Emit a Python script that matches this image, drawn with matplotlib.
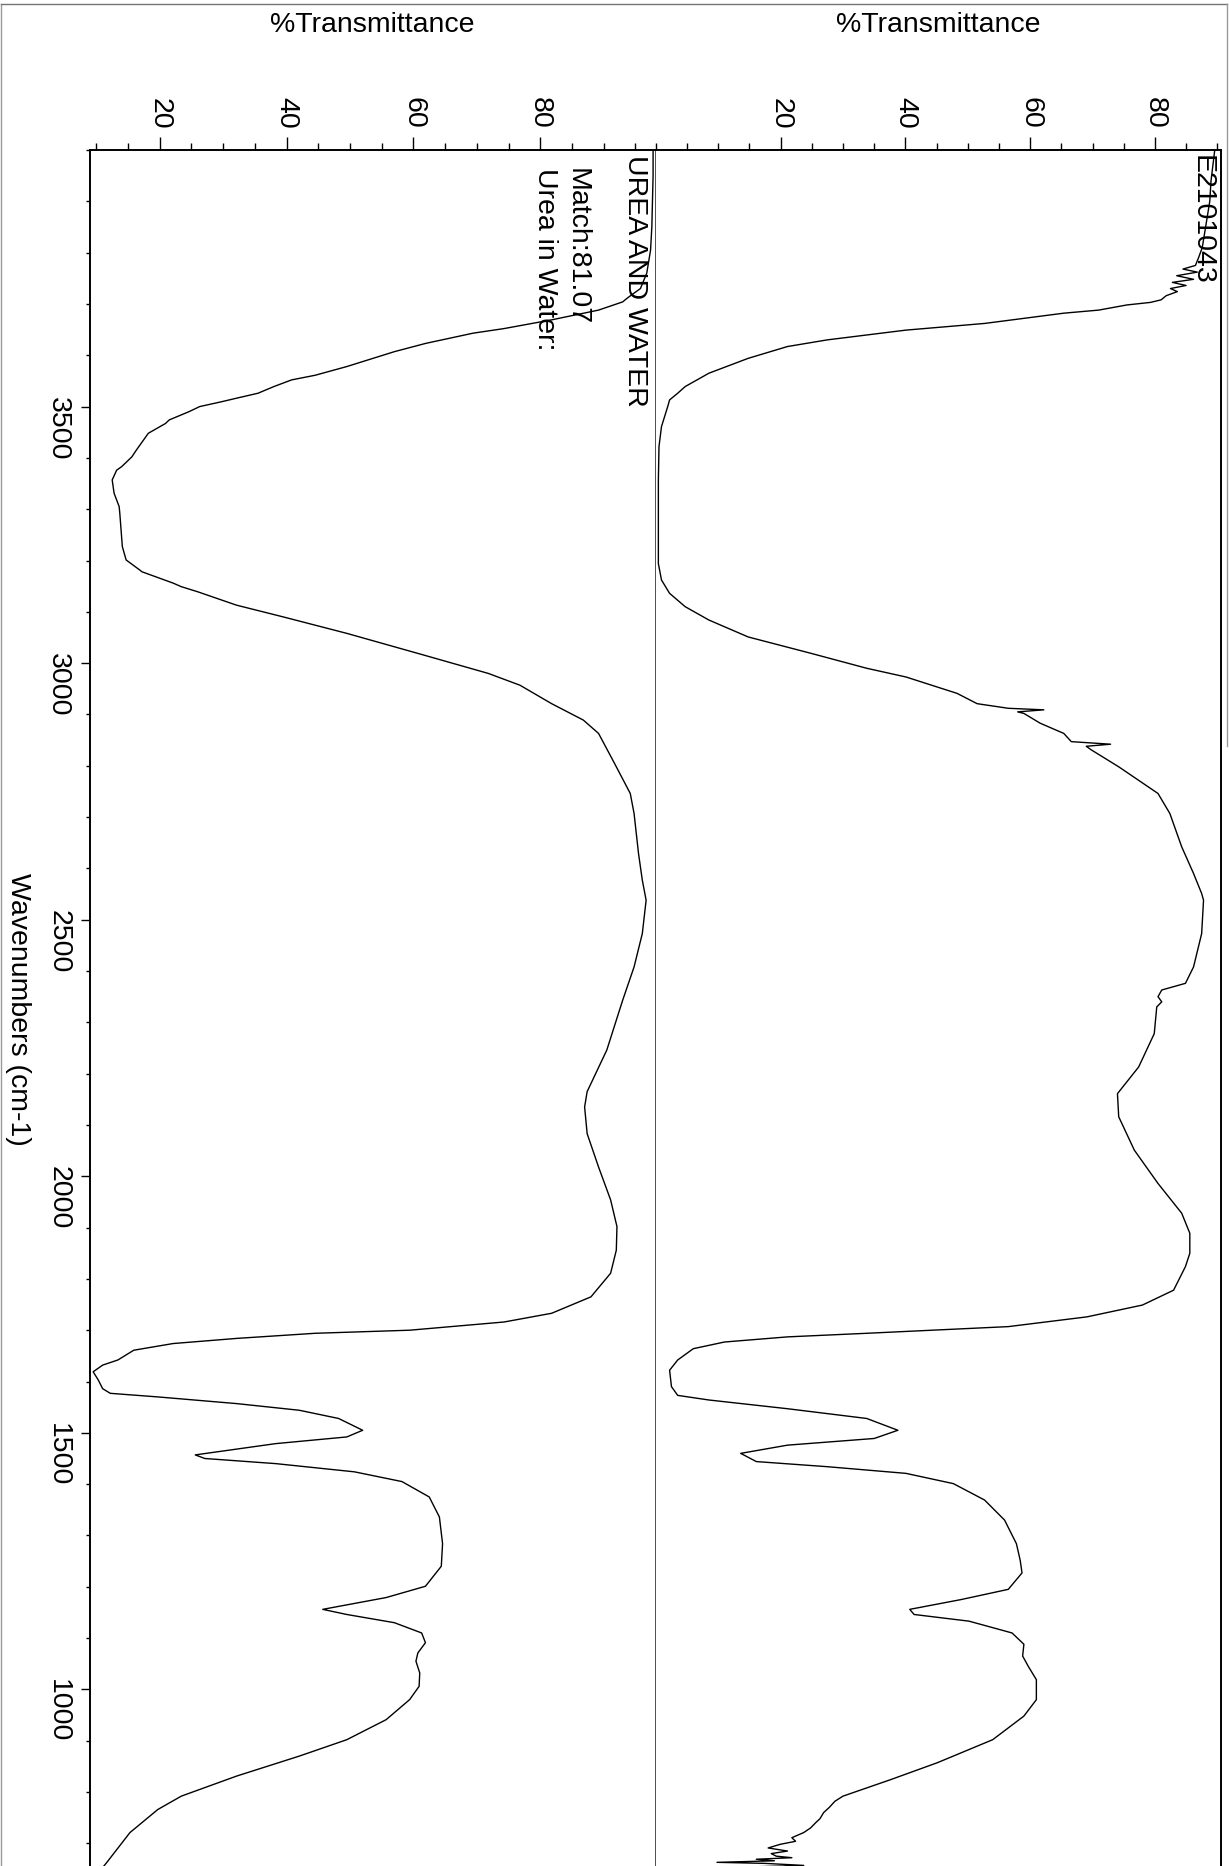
import matplotlib
matplotlib.use("Agg")
import matplotlib.pyplot as plt
from matplotlib.ticker import FixedLocator, MultipleLocator
from matplotlib.lines import Line2D

plt.rcParams['font.family'] = ['Liberation Sans', 'DejaVu Sans']

# reference spectrum (library match): wavenumber, %T
ref_wn = [4000, 3950, 3900, 3850, 3805, 3760, 3730, 3713, 3704, 3688, 3669, 3652,
          3643, 3623, 3607, 3578, 3561, 3552, 3539, 3526, 3516, 3509, 3500, 3490,
          3474, 3467, 3448, 3415, 3402, 3383, 3376, 3357, 3331, 3305, 3292, 3227,
          3201, 3181, 3178, 3156, 3149, 3139, 3113, 3090, 3058, 3019, 2980, 2957,
          2921, 2889, 2863, 2805, 2746, 2707, 2629, 2577, 2538, 2473, 2408, 2343,
          2246, 2165, 2135, 2083, 2018, 1954, 1902, 1856, 1811, 1765, 1733, 1716,
          1700, 1694, 1684, 1674, 1661, 1642, 1632, 1619, 1603, 1586, 1577, 1570,
          1557, 1544, 1528, 1505, 1492, 1479, 1457, 1450, 1440, 1424, 1405, 1375,
          1336, 1284, 1240, 1201, 1179, 1156, 1146, 1130, 1110, 1091, 1071, 1055,
          1032, 1006, 980, 941, 902, 870, 831, 792, 766, 721, 662, 650]
ref_t = [97.8, 97.8, 97.7, 97.6, 97.4, 96.8, 95.8, 93.9, 93.0, 89.2, 81.8, 74.3,
         69.4, 61.9, 57.0, 49.5, 44.5, 40.8, 38.0, 35.5, 32.0, 29.6, 26.3, 24.6,
         21.5, 20.9, 18.2, 16.3, 15.6, 14.0, 13.2, 12.5, 12.8, 13.6, 13.7, 14.1,
         14.7, 16.9, 17.2, 22.1, 23.4, 26.0, 32.1, 39.5, 49.5, 60.7, 71.8, 76.8,
         81.8, 86.8, 89.2, 91.7, 94.2, 94.8, 95.5, 96.1, 96.7, 96.1, 94.8, 93.0,
         90.5, 87.4, 87.0, 87.4, 89.2, 91.1, 92.1, 92.0, 91.1, 88.0, 81.8, 74.3,
         59.4, 44.5, 32.1, 22.1, 15.9, 13.4, 11.0, 9.5, 10.3, 11.0, 12.2, 19.7,
         32.1, 42.0, 48.2, 52.0, 49.5, 38.3, 25.6, 27.1, 38.3, 50.7, 58.2, 62.5,
         64.1, 64.6, 64.4, 61.9, 55.7, 45.7, 49.5, 57.0, 61.3, 61.9, 60.7, 60.4,
         61.0, 60.9, 59.4, 55.7, 49.5, 42.0, 32.1, 23.4, 19.7, 15.3, 11.6, 10.8]

# sample spectrum E2101043
smp_wn = [4000, 3970, 3940, 3900, 3870, 3840, 3810, 3790, 3775, 3768, 3762, 3755,
          3748, 3742, 3736, 3730, 3724, 3716, 3708, 3703, 3698, 3688, 3682, 3662,
          3649, 3630, 3617, 3594, 3565, 3552, 3539, 3526, 3513, 3500, 3461, 3422,
          3357, 3194, 3162, 3136, 3110, 3084, 3051, 3019, 2990, 2973, 2941, 2921,
          2912, 2909, 2905, 2902, 2883, 2863, 2847, 2842, 2838, 2831, 2798, 2746,
          2707, 2642, 2590, 2551, 2538, 2473, 2408, 2376, 2363, 2350, 2340, 2330,
          2278, 2213, 2161, 2116, 2051, 1986, 1928, 1889, 1850, 1824, 1778, 1749,
          1726, 1707, 1694, 1687, 1677, 1664, 1642, 1622, 1590, 1573, 1564, 1547,
          1528, 1505, 1489, 1476, 1460, 1444, 1434, 1421, 1401, 1369, 1330, 1284,
          1252, 1227, 1195, 1175, 1156, 1146, 1133, 1110, 1088, 1065, 1045, 1019,
          980, 948, 902, 857, 824, 792, 782, 770, 760, 748, 740, 730, 721, 711,
          704, 698, 691, 685, 680, 675, 672, 669, 666, 663, 661, 657, 654, 650]
smp_t = [89.6, 89.3, 89.0, 88.8, 88.4, 88.0, 87.6, 87.0, 86.5, 84.5, 86.8, 83.5,
         86.2, 82.8, 85.0, 82.5, 83.6, 81.8, 81.0, 79.3, 75.5, 71.0, 65.4, 52.7,
         40.1, 27.5, 21.1, 14.8, 8.5, 6.6, 4.7, 3.5, 2.2, 1.9, 0.9, 0.5,
         0.4, 0.4, 0.9, 2.2, 4.7, 8.5, 14.8, 24.9, 33.8, 40.1, 48.3, 51.5,
         56.5, 62.2, 58.0, 59.0, 61.6, 65.4, 66.6, 72.9, 69.0, 69.8, 74.2, 80.5,
         82.4, 84.3, 86.2, 87.5, 87.8, 87.5, 86.2, 84.9, 81.1, 80.5, 81.1, 80.3,
         79.9, 77.4, 74.0, 74.2, 76.7, 80.5, 84.3, 85.6, 85.6, 84.9, 83.0, 78.0,
         69.1, 56.5, 33.8, 21.1, 11.0, 6.0, 3.5, 2.2, 2.5, 3.5, 8.5, 21.1,
         33.8, 38.8, 35.0, 21.1, 13.6, 16.1, 27.5, 40.1, 47.7, 52.7, 55.9, 57.8,
         58.4, 58.7, 56.5, 48.9, 40.7, 41.4, 50.2, 57.1, 59.0, 58.8, 59.7, 61.0,
         61.0, 59.0, 54.0, 45.1, 37.6, 30.0, 28.7, 27.8, 26.9, 26.3, 25.6, 24.8, 23.7, 21.8,
         22.4, 19.9, 18.0, 21.1, 18.5, 19.3, 21.8, 16.1, 19.0, 9.8, 17.4, 23.7, 15.0, 18.0]

t_ticks = [20, 40, 60, 80]
wn_ticks = [3500, 3000, 2500, 2000, 1500, 1000]

W, H = 1229, 1866
FS = 20.5
fig = plt.figure(figsize=(W / 100, H / 100), dpi=100)


def box(x0, x1, y0, y1):
    # pixel box (top-left origin) -> figure fraction
    return [x0 / W, 1 - y1 / H, (x1 - x0) / W, (y1 - y0) / H]


def ftext(x, y, s, **kw):
    return fig.text(x / W, 1 - y / H, s, fontsize=FS, **kw)


ax_ref = fig.add_axes(box(90, 655, 150, 1869))
ax_smp = fig.add_axes(box(655, 1221, 150, 1869))

ax_ref.plot(ref_t, ref_wn, color='black', lw=1.0)
ax_smp.plot(smp_t, smp_wn, color='black', lw=1.0)

ax_ref.set_xlim(9.0, 98.1)
ax_smp.set_xlim(-0.14, 90.6)

for ax in (ax_ref, ax_smp):
    ax.set_ylim(650, 4000)
    ax.xaxis.set_ticks_position('top')
    ax.xaxis.set_major_locator(FixedLocator(t_ticks))
    ax.xaxis.set_minor_locator(MultipleLocator(5))
    ax.tick_params(axis='x', which='major', direction='out', length=9.5, width=1,
                   labelsize=FS, labelrotation=-90, pad=5.5)
    ax.tick_params(axis='x', which='minor', direction='out', length=5, width=1)
    ax.spines['bottom'].set_visible(False)
    for s in ('top', 'left', 'right'):
        ax.spines[s].set_linewidth(1.4)

ax_ref.spines['right'].set_linewidth(0.7)
ax_smp.spines['left'].set_linewidth(0.7)
ax_ref.spines['right'].set_color('0.3')
ax_smp.spines['left'].set_color('0.3')

ax_ref.yaxis.set_major_locator(FixedLocator(wn_ticks))
ax_ref.yaxis.set_minor_locator(MultipleLocator(100))
ax_ref.tick_params(axis='y', which='major', direction='out', length=6.5, width=1,
                   labelsize=FS, labelrotation=-90, pad=7)
ax_ref.tick_params(axis='y', which='minor', direction='out', length=3, width=1)
ax_smp.tick_params(axis='y', which='both', left=False, labelleft=False)

# axis titles
ftext(372.5, 25, '%Transmittance', ha='center', va='center')
ftext(938, 25, '%Transmittance', ha='center', va='center')
ftext(18, 1009, 'Wavenumbers (cm-1)', rotation=-90, ha='center', va='center')

# spectrum captions
cap = dict(rotation=-90, rotation_mode='anchor', ha='left', va='baseline')
ftext(628, 155, 'UREA AND WATER', **cap)
ftext(570, 168, 'Match:81.07', **cap)
ftext(538, 168, 'Urea in Water:', **cap)
ftext(1195, 155, 'E2101043', **cap)

# scanned page border
fig.add_artist(Line2D([1 / W, 1 / W], [0, 1 - 4 / H], color='0.6', lw=1))
fig.add_artist(Line2D([1 / W, 1 - 2 / W], [1 - 4 / H, 1 - 4 / H], color='0.45', lw=1))
fig.add_artist(Line2D([1 - 2 / W, 1 - 2 / W], [1 - 4 / H, 0.6], color='0.6', lw=1))

fig.savefig('out.png', dpi=100)
